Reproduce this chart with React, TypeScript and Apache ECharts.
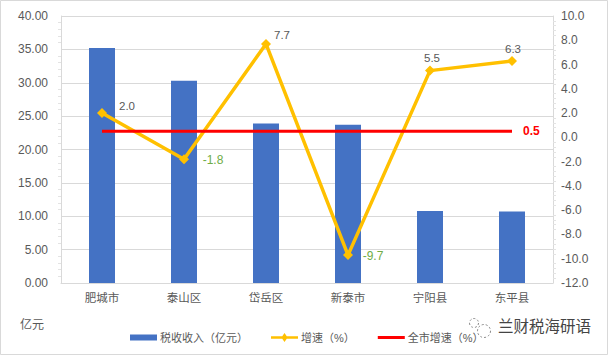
import React, { useEffect, useRef } from "react";
import * as echarts from "echarts";

const categories = ["肥城市", "泰山区", "岱岳区", "新泰市", "宁阳县", "东平县"];
const revenue = [35.2, 30.3, 23.9, 23.7, 10.8, 10.7];
const growth = [2.0, -1.8, 7.7, -9.7, 5.5, 6.3];
const cityGrowth = [0.5, 0.5, 0.5, 0.5, 0.5, 0.5];
const FONT = '"Liberation Sans", "Noto Sans CJK SC", sans-serif';
const GREY = "#595959";
const GREEN = "#70ad47";

const growthLabels = [
  { color: GREY, offset: [25, -7] },
  { color: GREEN, offset: [29, 1] },
  { color: GREY, offset: [16, -9] },
  { color: GREEN, offset: [25, 1] },
  { color: GREY, offset: [2, -13] },
  { color: GREY, offset: [1, -12] },
];

export default function App() {
  const ref = useRef<HTMLDivElement>(null);
  useEffect(() => {
    document.body.style.margin = "0";
    const chart = echarts.init(ref.current!, null, { renderer: "svg" });
    chart.setOption({
      animation: false,
      textStyle: { fontFamily: FONT },
      grid: { left: 61, right: 55, top: 16, bottom: 72, containLabel: false },
      legend: {
        left: 125,
        top: 327,
        itemGap: 23,
        itemWidth: 27,
        itemHeight: 9,
        textStyle: { color: GREY, fontSize: 11, fontFamily: FONT, padding: [0, 0, 0, -2] },
        data: [
          { name: "税收收入（亿元）", icon: "path://M0 0h300v0H0zM0 17h300v66H0zM0 100h300v0H0z" },
          { name: "增速（%）", icon: "path://M0 35h125L150 0l25 35h125v30H175l-25 35-25-35H0z" },
          { name: "全市增速（%）", icon: "path://M0 0h300v0H0zM0 33h300v34H0zM0 100h300v0H0z" },
        ],
      },
      xAxis: {
        type: "category",
        data: categories,
        axisLine: { lineStyle: { color: "#d9d9d9", width: 1 }, onZero: false },
        axisTick: { show: false },
        axisLabel: { color: GREY, fontSize: 11.5, margin: 9 },
      },
      yAxis: [
        {
          type: "value",
          min: 0,
          max: 40,
          interval: 5,
          axisLine: { show: true, lineStyle: { color: "#d9d9d9" } },
          axisTick: { show: false },
          minorTick: { show: true, splitNumber: 5, length: 3, lineStyle: { color: "#e3e3e3" } },
          splitLine: { show: true, lineStyle: { color: "#d9d9d9", width: 1 } },
          axisLabel: { color: GREY, fontSize: 12, margin: 13, formatter: (v: number) => v.toFixed(2) },
        },
        {
          type: "value",
          position: "right",
          min: -12,
          max: 10,
          interval: 2,
          axisLine: { show: true, lineStyle: { color: "#d9d9d9" } },
          axisTick: { show: false },
          minorTick: { show: true, splitNumber: 5, length: 3, lineStyle: { color: "#e3e3e3" } },
          splitLine: { show: false },
          axisLabel: { color: GREY, fontSize: 12, margin: 8, formatter: (v: number) => v.toFixed(1) },
        },
      ],
      series: [
        {
          name: "税收收入（亿元）",
          type: "bar",
          data: revenue,
          barWidth: 26,
          itemStyle: { color: "#4472c4" },
        },
        {
          name: "增速（%）",
          type: "line",
          yAxisIndex: 1,
          data: growth.map((value, i) => ({
            value,
            label: {
              show: true,
              position: "inside",
              offset: growthLabels[i].offset,
              color: growthLabels[i].color,
              fontSize: growthLabels[i].color === GREEN ? 12 : 11.5,
              formatter: (p: any) => Number(p.value).toFixed(1),
            },
          })),
          symbol: "diamond",
          symbolSize: 10,
          lineStyle: { color: "#ffc000", width: 3.5 },
          itemStyle: { color: "#ffc000" },
        },
        {
          name: "全市增速（%）",
          type: "line",
          yAxisIndex: 1,
          data: cityGrowth,
          symbol: "none",
          endLabel: {
            show: true,
            color: "#ff0000",
            fontSize: 12,
            fontWeight: "bold",
            offset: [3, 0],
            formatter: (p: any) => Number(p.value).toFixed(1),
          },
          lineStyle: { color: "#ff0000", width: 3 },
          itemStyle: { color: "#ff0000" },
        },
      ],
      graphic: [
        {
          type: "rect",
          silent: true,
          shape: { x: 0.5, y: 0.5, width: 607, height: 354 },
          style: { fill: "none", stroke: "#d9d9d9", lineWidth: 1 },
        },
        {
          type: "text",
          x: 20,
          y: 319,
          style: { text: "亿元", fill: GREY, font: `12px ${FONT}` },
        },
        {
          type: "circle",
          shape: { cx: 484, cy: 331, r: 6.5 },
          style: { fill: "#fff", stroke: "#888", lineWidth: 1, lineDash: [2, 2] },
        },
        {
          type: "circle",
          shape: { cx: 474, cy: 323, r: 4.5 },
          style: { fill: "#fff", stroke: "#888", lineWidth: 1, lineDash: [2, 2] },
        },
        {
          type: "text",
          x: 498,
          y: 319,
          style: { text: "兰财税海研语", fill: "#444", font: `15.5px ${FONT}` },
        },
      ],
    });
    return () => chart.dispose();
  }, []);
  return <div ref={ref} style={{ width: 608, height: 355 }} />;
}
